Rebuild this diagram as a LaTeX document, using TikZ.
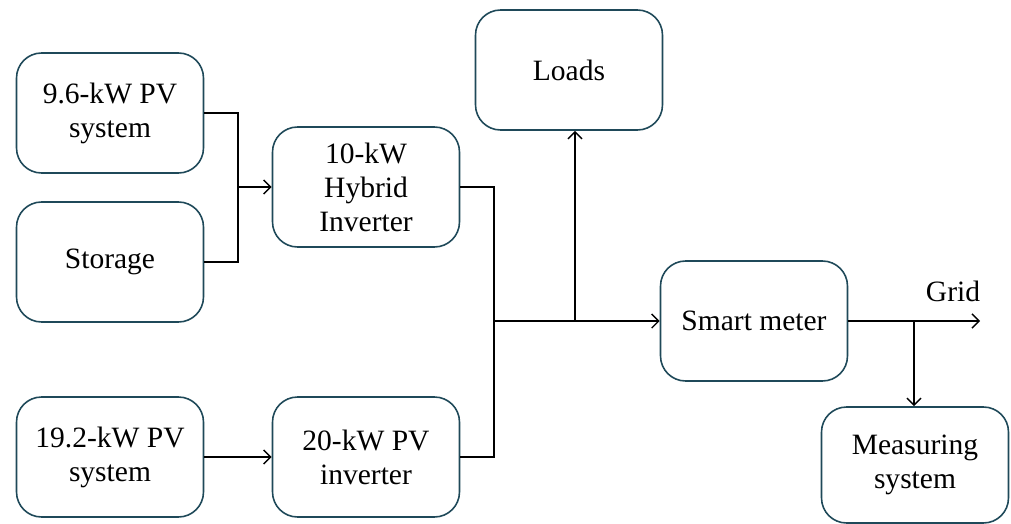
\documentclass[tikz,border=0pt]{standalone}
\usepackage{fontspec}
\setmainfont{Liberation Serif}
\usetikzlibrary{arrows.meta}
\definecolor{boxline}{RGB}{31,73,89}
\tikzset{
  block/.style={draw=boxline, line width=0.9pt, rounded corners=0.5cm,
    minimum width=3.74cm, minimum height=2.4cm, align=center,
    font=\fontsize{16.8}{19.4}\selectfont},
  wire/.style={black, line width=1.2pt},
  flow/.style={black, line width=0.8pt, -{Straight Barb[length=4pt,width=8pt]}},
}
\begin{document}
\begin{tikzpicture}[x=0.02cm,y=-0.02cm]
  \useasboundingbox (0,0) rectangle (1011,524);
  % blocks
  \node[block] (pvsmall) at (110,113) {9.6-kW PV\\system};
  \node[block] (storage) at (110,262) {Storage};
  \node[block] (hybrid) at (366,187) {10-kW\\Hybrid\\Inverter};
  \node[block] (loads) at (569,70) {Loads};
  \node[block] (meter) at (754,321) {Smart meter};
  \node[block] (pvlarge) at (110,457) {19.2-kW PV\\system};
  \node[block] (pvinv) at (366,457) {20-kW PV\\inverter};
  \node[block, minimum height=2.32cm] (measure) at (915,465) {Measuring\\system};
  % junctions
  \coordinate (joinA) at (238,187);
  \coordinate (joinB) at (494,321);
  \coordinate (tapL) at (575,321);
  \coordinate (tapM) at (914,321);
  \coordinate (gridend) at (980,321);
  % connectors
  \draw[wire] (pvsmall.east) -| (joinA) |- (storage.east);
  \draw[flow] (joinA) -- (hybrid.west);
  \draw[wire] (hybrid.east) -| (joinB) |- (pvinv.east);
  \draw[flow] (pvlarge.east) -- (pvinv.west);
  \draw[flow] (joinB) -- (meter.west);
  \draw[flow] (tapL) -- (loads.south -| tapL);
  \draw[flow] (meter.east) -- (gridend);
  \draw[flow] (tapM) -- (measure.north -| tapM);
  \node[font=\fontsize{16.8}{19.4}\selectfont] (gridlbl) at (953,291) {Grid};
\end{tikzpicture}
\end{document}
